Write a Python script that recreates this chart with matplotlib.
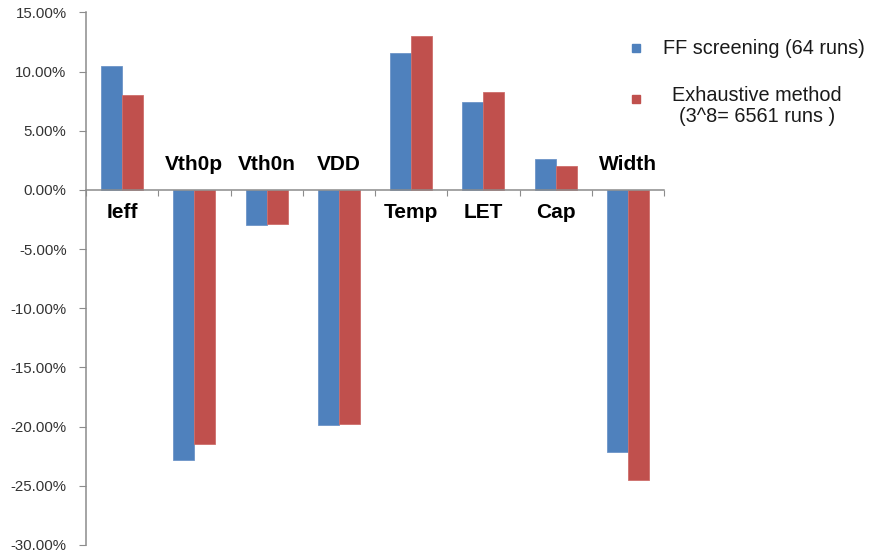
import numpy as np
import matplotlib.pyplot as plt
from matplotlib.patches import Rectangle

plt.rcParams['font.family'] = ['Liberation Sans', 'DejaVu Sans']

params = ['Ieff', 'Vth0p', 'Vth0n', 'VDD', 'Temp', 'LET', 'Cap', 'Width']
ff_screening = [10.45, -22.8, -3.0, -19.9, 11.6, 7.45, 2.65, -22.1]
exhaustive = [8.0, -21.5, -2.9, -19.8, 13.05, 8.25, 2.05, -24.5]
series_names = ['FF screening (64 runs)', 'Exhaustive method\n(3^8= 6561 runs )']
yticks = np.arange(-30, 16, 5)

blue = '#4F81BD'
red = '#C0504D'
axis_grey = '#8C8C8C'

fig = plt.figure(figsize=(8.71, 5.54), dpi=100)
ax = fig.add_axes([86/871, 9/554, 578/871, 532.5/554])

x = np.arange(len(params))
w = 0.29
ax.bar(x - w/2, ff_screening, w, color=blue, edgecolor='#6D95C8', linewidth=0.6)
ax.bar(x + w/2, exhaustive, w, color=red, edgecolor='#CE6E6B', linewidth=0.6)

ax.set_xlim(-0.5, len(params) - 0.5)
ax.set_ylim(-30, 15)
ax.set_yticks(yticks)
ax.set_yticklabels(['%.2f%%' % v for v in yticks], fontsize=10.8, color='#333333')

# category axis sits on the zero line, ticks between groups
ax.spines['bottom'].set_position(('data', 0))
ax.spines['top'].set_visible(False)
ax.spines['right'].set_visible(False)
for s in ('left', 'bottom'):
    ax.spines[s].set_color(axis_grey)
    ax.spines[s].set_linewidth(1.1)
ax.set_xticks(np.arange(len(params) + 1) - 0.5)
ax.set_xticklabels([])
ax.tick_params(axis='x', length=4, color=axis_grey, direction='out')
ax.tick_params(axis='y', length=5, color=axis_grey, direction='out', pad=9)

# parameter names go on the opposite side of the bars
for i, name in enumerate(params):
    if ff_screening[i] >= 0:
        ax.annotate(name, (i, 0), xytext=(0, -16), textcoords='offset points',
                    ha='center', va='center', fontsize=15, fontweight='bold')
    else:
        ax.annotate(name, (i, 0), xytext=(0, 18), textcoords='offset points',
                    ha='center', va='center', fontsize=15, fontweight='bold')

# legend
fig.patches.append(Rectangle((632/871, 1 - 52/554), 8/871, 8/554,
                             transform=fig.transFigure, color=blue))
fig.patches.append(Rectangle((632/871, 1 - 103/554), 8/871, 8/554,
                             transform=fig.transFigure, color=red))
fig.text(663/871, 1 - 48/554, series_names[0], ha='left', va='center',
         fontsize=14.3, color='#1A1A1A')
fig.text(757/871, 1 - 106/554, series_names[1], ha='center', va='center',
         fontsize=14.3, color='#1A1A1A', linespacing=1.1)

fig.savefig('out.png', dpi=100)
